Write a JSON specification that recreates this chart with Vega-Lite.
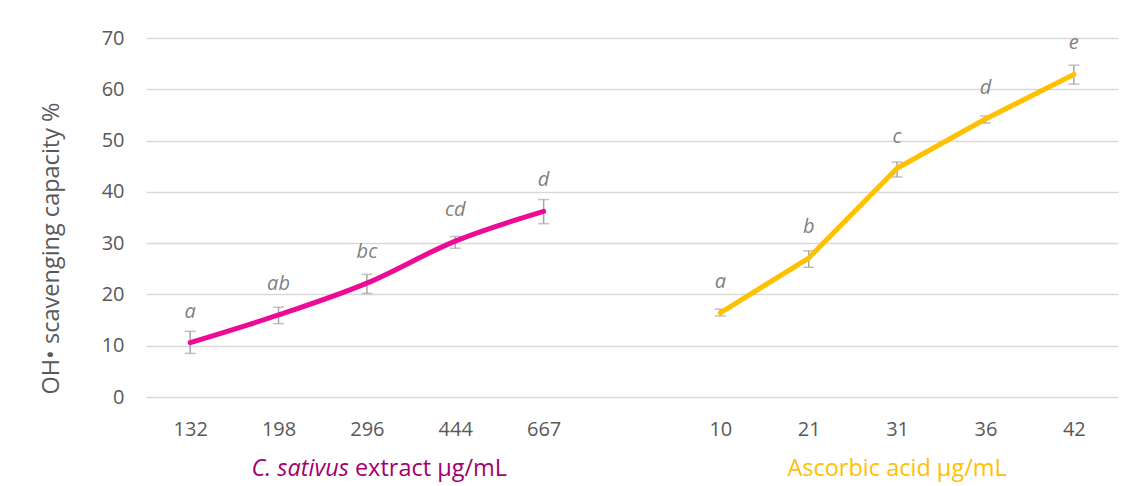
{
  "$schema": "https://vega.github.io/schema/vega-lite/v6.json",
  "width": 972,
  "height": 359,
  "autosize": "none",
  "padding": {"left": 146, "top": 38, "right": 14, "bottom": 89},
  "background": "white",
  "config": {"view": {"stroke": null}, "font": "Open Sans"},
  "datasets": {
    "pts": [
      {"group": "C", "conc": "132", "mean": 10.6, "lo": 8.5, "hi": 12.8, "sig": "a"},
      {"group": "C", "conc": "198", "mean": 16.0, "lo": 14.3, "hi": 17.5, "sig": "ab"},
      {"group": "C", "conc": "296", "mean": 22.2, "lo": 20.2, "hi": 23.9, "sig": "bc"},
      {"group": "C", "conc": "444", "mean": 30.4, "lo": 29.0, "hi": 31.3, "sig": "cd"},
      {"group": "C", "conc": "667", "mean": 36.2, "lo": 33.8, "hi": 38.5, "sig": "d"},
      {"group": "A", "conc": "10", "mean": 16.4, "lo": 15.8, "hi": 17.1, "sig": "a"},
      {"group": "A", "conc": "21", "mean": 27.1, "lo": 25.3, "hi": 28.5, "sig": "b"},
      {"group": "A", "conc": "31", "mean": 44.6, "lo": 42.9, "hi": 45.8, "sig": "c"},
      {"group": "A", "conc": "36", "mean": 54.2, "lo": 53.4, "hi": 54.8, "sig": "d"},
      {"group": "A", "conc": "42", "mean": 62.9, "lo": 61.0, "hi": 64.7, "sig": "e"}
    ],
    "titles": [
      {"conc": "296", "part1": "C. sativus", "part2": "extract µg/mL", "group": "C"},
      {"conc": "31", "part1": "", "part2": "Ascorbic acid µg/mL", "group": "A"}
    ]
  },
  "data": {"name": "pts"},
  "encoding": {
    "x": {
      "field": "conc",
      "type": "nominal",
      "sort": null,
      "scale": {"type": "point", "padding": 0.5, "domain": ["132", "198", "296", "444", "667", " ", "10", "21", "31", "36", "42"]},
      "axis": {"title": null, "labelAngle": 0, "labelFontSize": 20, "labelColor": "#595959", "labelPadding": 22, "ticks": false, "domain": false, "grid": false}
    }
  },
  "layer": [
    {
      "mark": {"type": "rule", "color": "#A6A6A6", "strokeWidth": 1.5},
      "encoding": {
        "y": {"field": "lo", "type": "quantitative", "scale": {"domain": [0, 70], "nice": false},
          "axis": {"values": [0, 10, 20, 30, 40, 50, 60, 70], "title": "OH• scavenging capacity %", "titleFontSize": 23.5, "titleFontWeight": "normal", "titleColor": "#595959", "titleX": -95, "titleY": 210, "titleAlign": "center", "titleBaseline": "middle", "labelFontSize": 20, "labelColor": "#595959", "labelPadding": 22, "ticks": false, "domain": false, "grid": true, "gridColor": "#D9D9D9", "gridWidth": 1.4}},
        "y2": {"field": "hi"}
      }
    },
    {
      "mark": {"type": "tick", "color": "#A6A6A6", "size": 11, "thickness": 1.5, "orient": "horizontal"},
      "encoding": {"y": {"field": "lo", "type": "quantitative"}}
    },
    {
      "mark": {"type": "tick", "color": "#A6A6A6", "size": 11, "thickness": 1.5, "orient": "horizontal"},
      "encoding": {"y": {"field": "hi", "type": "quantitative"}}
    },
    {
      "transform": [{"filter": "datum.group == 'C'"}],
      "mark": {"type": "line", "color": "#EC0A96", "strokeWidth": 5, "interpolate": "monotone", "strokeCap": "round"},
      "encoding": {"y": {"field": "mean", "type": "quantitative"}}
    },
    {
      "transform": [{"filter": "datum.group == 'A'"}],
      "mark": {"type": "line", "color": "#FFC000", "strokeWidth": 5, "interpolate": "linear", "strokeCap": "round", "strokeJoin": "round"},
      "encoding": {"y": {"field": "mean", "type": "quantitative"}}
    },
    {
      "mark": {"type": "text", "fontStyle": "italic", "fontSize": 20, "color": "#7F7F7F", "dy": -31, "baseline": "middle"},
      "encoding": {"y": {"field": "mean", "type": "quantitative"}, "text": {"field": "sig"}}
    },
    {
      "data": {"name": "titles"},
      "transform": [{"filter": "datum.group == 'C'"}],
      "mark": {"type": "text", "fontStyle": "italic", "fontSize": 23.5, "color": "#A3006F", "align": "right", "baseline": "middle", "dx": -18, "dy": 72},
      "encoding": {"y": {"datum": 0, "type": "quantitative"}, "text": {"field": "part1"}}
    },
    {
      "data": {"name": "titles"},
      "transform": [{"filter": "datum.group == 'C'"}],
      "mark": {"type": "text", "fontSize": 23.5, "color": "#A3006F", "align": "left", "baseline": "middle", "dx": -12, "dy": 72},
      "encoding": {"y": {"datum": 0, "type": "quantitative"}, "text": {"field": "part2"}}
    },
    {
      "data": {"name": "titles"},
      "transform": [{"filter": "datum.group == 'A'"}],
      "mark": {"type": "text", "fontSize": 23.5, "color": "#FFC000", "align": "center", "baseline": "middle", "dy": 72},
      "encoding": {"y": {"datum": 0, "type": "quantitative"}, "text": {"field": "part2"}}
    }
  ]
}
